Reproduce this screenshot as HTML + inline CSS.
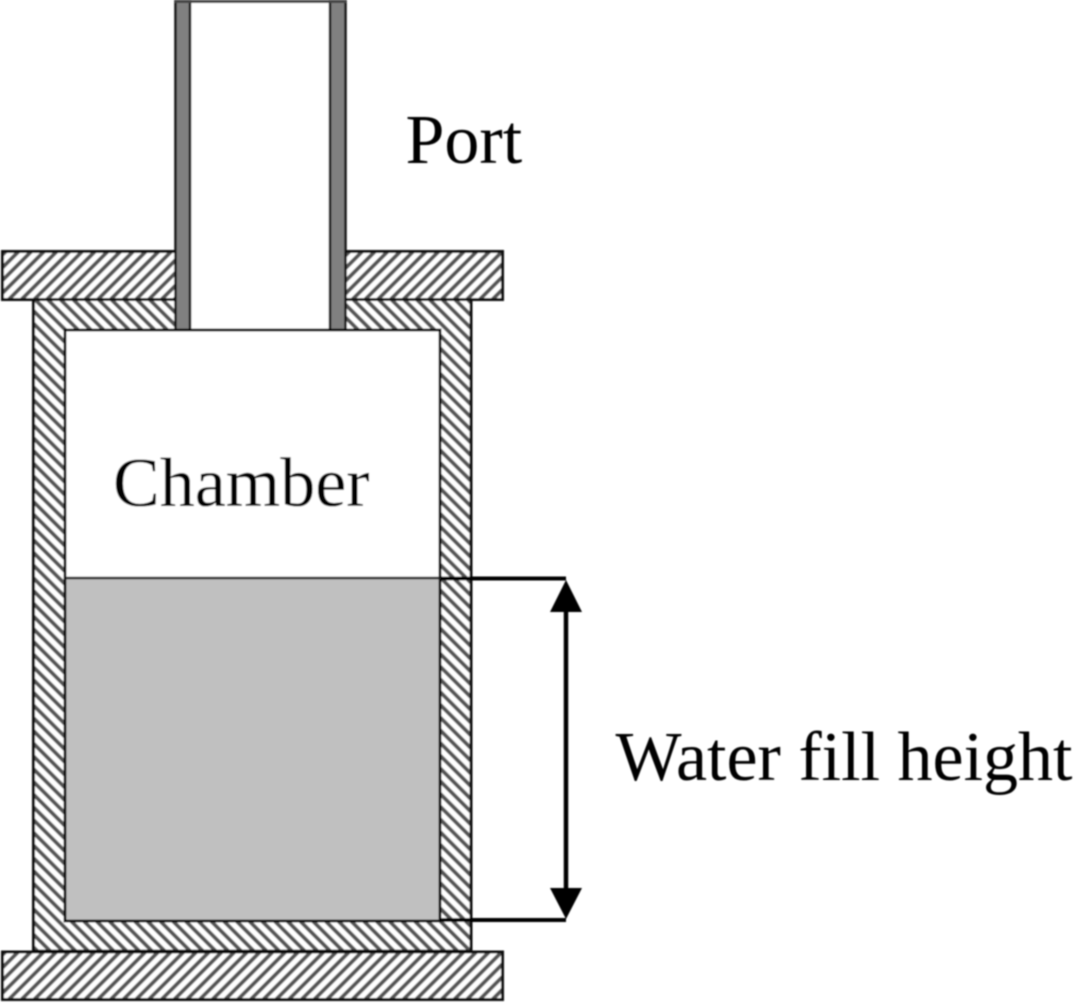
<!DOCTYPE html>
<html>
<head>
<meta charset="utf-8">
<style>
html,body{margin:0;padding:0;background:#fff;}
svg{display:block;}
text{font-family:"Liberation Serif",serif;font-size:70px;fill:#000;}
</style>
</head>
<body>
<svg width="1074" height="1003" viewBox="0 0 1074 1003" xmlns="http://www.w3.org/2000/svg">
<defs>
<filter id="s" x="-2%" y="-2%" width="104%" height="104%"><feGaussianBlur stdDeviation="0.7"/></filter>
<pattern id="a" patternUnits="userSpaceOnUse" width="9" height="9" patternTransform="rotate(45)">
<rect width="9" height="9" fill="#fff"/>
<rect x="0" width="3.9" height="9" fill="#555"/>
</pattern>
<pattern id="b" patternUnits="userSpaceOnUse" width="9" height="9" patternTransform="rotate(-45)">
<rect width="9" height="9" fill="#fff"/>
<rect x="0" width="3.9" height="9" fill="#555"/>
</pattern>
</defs>

<g filter="url(#s)">
<!-- body -->
<path d="M33.5 299.5H471V951H33.5Z" fill="url(#b)" stroke="#111" stroke-width="3"/>
<rect x="65" y="330" width="375" height="591" fill="#fff"/>
<rect x="65" y="578" width="375" height="343" fill="#c0c0c0"/>
<path d="M65 330H440V921H65Z" fill="none" stroke="#111" stroke-width="3"/>
<path d="M65 578H440" stroke="#222" stroke-width="2.5"/>

<!-- flanges -->
<rect x="2.5" y="251.5" width="500" height="48" fill="url(#a)" stroke="#111" stroke-width="3"/>
<rect x="2.5" y="952" width="500" height="47.5" fill="url(#a)" stroke="#111" stroke-width="3"/>

<!-- port -->
<rect x="190" y="0" width="140" height="330" fill="#fff"/>
<rect x="175.5" y="1" width="14.5" height="329" fill="#808080" stroke="#111" stroke-width="2.5"/>
<rect x="330" y="1" width="15.5" height="329" fill="#808080" stroke="#111" stroke-width="2.5"/>
<path d="M175 1.5H346" stroke="#444" stroke-width="3"/>
<path d="M175 330H346" stroke="#111" stroke-width="3"/>

<!-- dimension -->
<path d="M440 578.5H566M440 920H566" stroke="#000" stroke-width="4" fill="none"/>
<path d="M566 600V900" stroke="#000" stroke-width="4.5"/>
<path d="M566 580L582 612H550Z" fill="#000"/>
<path d="M566 919L582 888H550Z" fill="#000"/>

<!-- labels -->
<text x="405.5" y="163">Port</text>
<text x="113" y="506">Chamber</text>
<text x="615.5" y="780">Water fill height</text>
</g>
</svg>
</body>
</html>
